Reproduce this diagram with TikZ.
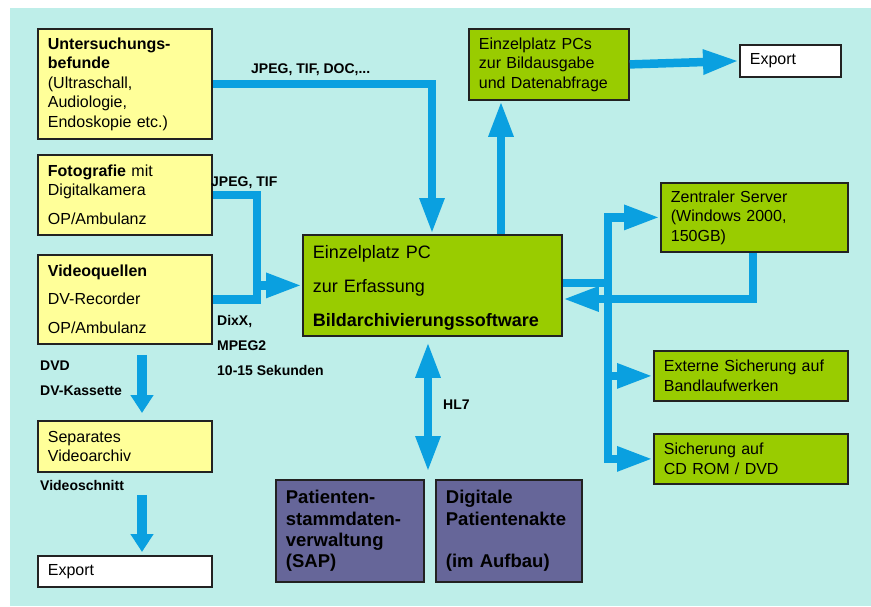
\documentclass[tikz,border=0pt]{standalone}
\usepackage{fontspec}
\setmainfont{Liberation Sans}
\usetikzlibrary{arrows.meta}
\definecolor{bgc}{HTML}{BEEEE9}
\definecolor{yel}{HTML}{FFFF99}
\definecolor{grn}{HTML}{99CC00}
\definecolor{pur}{HTML}{666699}
\definecolor{flow}{HTML}{0AA0E0}
\definecolor{edge}{HTML}{222222}
\begin{document}
\begin{tikzpicture}[x=1pt,y=-1pt,
  box/.style={draw=edge, line width=1.8pt, anchor=north west, inner xsep=10pt, inner ysep=0pt, align=left, font=\fontsize{16}{19.5}\selectfont},
  ybox/.style={box, fill=yel},
  gbox/.style={box, fill=grn},
  pbox/.style={box, fill=pur, font=\fontsize{18.5}{21.3}\selectfont\bfseries},
  wbox/.style={box, fill=white},
  lbl/.style={inner sep=0pt, font=\fontsize{14}{25}\selectfont\bfseries, align=left},
  flowline/.style={draw=flow, line width=8.5pt},
  bigtip/.style={-{Triangle[length=36pt,width=23pt]}},
  smalltip/.style={-{Triangle[length=18pt,width=22pt]}},
  smallflow/.style={draw=flow, line width=10pt, smalltip}
]
\useasboundingbox (0,0) rectangle (871,606);
\fill[white] (0,0) rectangle (871,606);
\fill[bgc] (10,8) rectangle (871,606);

% left column
\node[ybox, minimum width=174pt, minimum height=110pt, text width=154pt] (unt) at (37,28)
  {\textbf{Untersuchungs-}\\\textbf{befunde}\\(Ultraschall,\\Audiologie,\\Endoskopie etc.)};
\node[ybox, minimum width=174pt, minimum height=80pt, text width=154pt] (foto) at (37,154)
  {\textbf{Fotografie} mit\\Digitalkamera\\[9.5pt]OP/Ambulanz};
\node[ybox, minimum width=174pt, minimum height=89pt, text width=154pt] (video) at (37,254)
  {\textbf{Videoquellen}\\[8.5pt]DV-Recorder\\[9pt]OP/Ambulanz};
\node[ybox, minimum width=174pt, minimum height=51pt, text width=154pt] (sep) at (37,420)
  {Separates\\Videoarchiv};
\node[wbox, minimum width=174pt, minimum height=31pt, text width=154pt] (expa) at (37,555) {Export};

% centre
\node[gbox, minimum width=259pt, minimum height=101pt, text width=239pt, font=\fontsize{18}{21}\selectfont] (main) at (302,234)
  {\rule{0pt}{19pt}Einzelplatz PC\\[13pt]zur Erfassung\\[13pt]\textbf{Bildarchivierungssoftware}};
\node[gbox, minimum width=160pt, minimum height=71pt, text width=140pt] (pcs) at (468,28)
  {Einzelplatz PCs\\zur Bildausgabe\\und Datenabfrage};
\node[wbox, minimum width=101pt, minimum height=32pt, text width=81pt] (expb) at (739,44) {Export};

% right column
\node[gbox, minimum width=187pt, minimum height=69pt, text width=167pt] (server) at (660,182)
  {Zentraler Server\\(Windows 2000,\\150GB)};
\node[gbox, minimum width=194pt, minimum height=50pt, text width=174pt] (ext) at (653,350)
  {Externe Sicherung auf\\Bandlaufwerken};
\node[gbox, minimum width=194pt, minimum height=50pt, text width=174pt] (cd) at (653,433)
  {Sicherung auf\\CD ROM / DVD};

% bottom
\node[pbox, minimum width=148pt, minimum height=102pt, text width=128pt] (pat) at (275,479)
  {Patienten-\\stammdaten-\\verwaltung\\(SAP)};
\node[pbox, minimum width=146pt, minimum height=102pt, text width=126pt] (dig) at (435,479)
  {Digitale\\Patientenakte\\[21.3pt](im Aufbau)};

% labels
\node[lbl, anchor=west] (lab1) at (251,70) {JPEG, TIF, DOC,...};
\node[lbl, anchor=west] (lab2) at (211,183) {JPEG, TIF};
\node[lbl, anchor=north west] (lab3) at (217,315) {DixX,\\MPEG2\\10-15 Sekunden};
\node[lbl, anchor=north west] (lab4) at (40,361) {DVD\\DV-Kassette};
\node[lbl, anchor=west] (lab5) at (40,485) {Videoschnitt};
\node[lbl, anchor=west] (lab6) at (443,405) {HL7};

% connectors
\coordinate (ja) at (432,0);
\draw[flowline, bigtip] (unt.east) -| (ja |- main.north);

\coordinate (jb) at (257,0);
\draw[flowline] (foto.east) -| (jb |- video.east) -- (video.east);
\draw[flowline, bigtip] (jb |- main.west) -- (main.west);

\coordinate (jc) at (501,0);
\draw[flowline, bigtip] (jc |- main.north) -- (jc |- pcs.south);
\draw[flowline, bigtip] (pcs.east) -- (expb.west);

\coordinate (bus) at (608,283);
\draw[flowline, bigtip] (main.east |- bus) -| (bus |- server.west) -- (server.west);
\draw[flowline, bigtip] (bus |- server.west) -- (bus |- cd.west) -- (cd.west);
\draw[flowline, bigtip] (bus |- ext.west) -- (ext.west);

\coordinate (ret) at (753,299);
\draw[flowline, bigtip] (server.south -| ret) |- (main.east |- ret);

\coordinate (hl) at (428,0);
\draw[flowline, {Triangle[length=36pt,width=23pt]}-{Triangle[length=36pt,width=23pt]}, shorten <=5pt, shorten >=7pt]
  (hl |- main.south) -- (hl |- pat.north);

\coordinate (dv) at (142,0);
\draw[smallflow, shorten <=10pt, shorten >=7pt] (dv |- video.south) -- (dv |- sep.north);
\draw[smallflow, shorten <=22pt, shorten >=3pt] (dv |- sep.south) -- (dv |- expa.north);
\end{tikzpicture}
\end{document}
